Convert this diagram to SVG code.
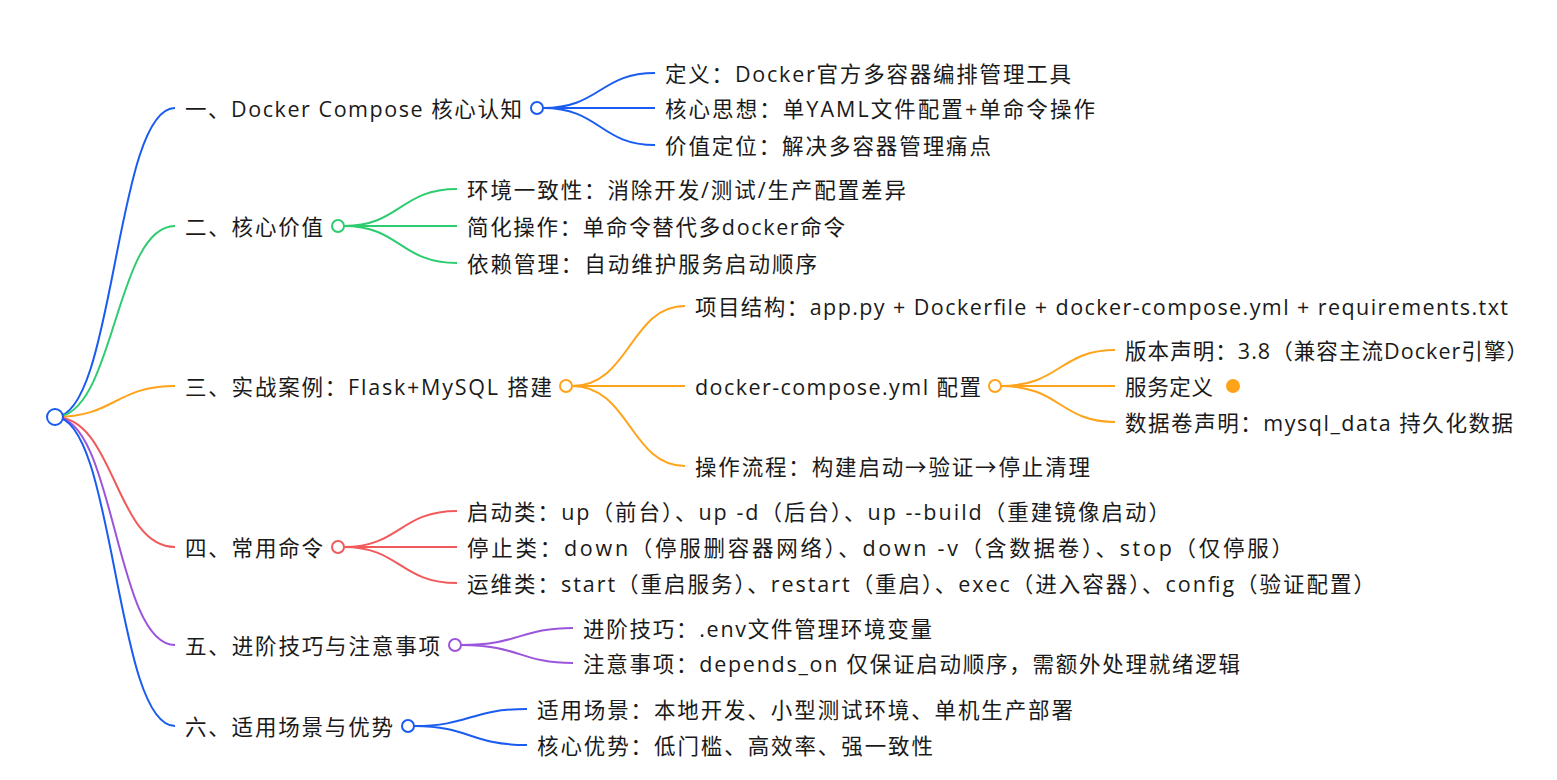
<svg xmlns="http://www.w3.org/2000/svg" width="1557" height="780" viewBox="0 0 1557 780">
<style>
text{font-family:"Open Sans","Noto Sans CJK SC","Microsoft YaHei",sans-serif;font-size:21.5px;fill:#1a1a1a;dominant-baseline:central}
path{fill:none;stroke-width:2}
.b{stroke:#1a5cf0}.g{stroke:#2ecc71}.o{stroke:#ffa31a}.r{stroke:#f05a5a}.p{stroke:#9b55dc}
circle{fill:#fff;stroke-width:2}
</style>
<rect width="1557" height="780" fill="#fff"/>
<g id="connectors">
<path class="b" d="M55,417 C115,417 115,108 175,108"/>
<path class="g" d="M55,417 C115,417 115,226 175,226"/>
<path class="o" d="M55,417 C115,417 115,386 175,386"/>
<path class="r" d="M55,417 C115,417 115,547 175,547"/>
<path class="p" d="M55,417 C115,417 115,645 175,645"/>
<path class="b" d="M55,417 C115,417 115,726 175,726"/>
<path class="b" d="M543,108 C600,108 600,73 655,73 M543,108 L655,108 M543,108 C600,108 600,145 655,145"/>
<path class="g" d="M344,226 C400,226 400,189 457,189 M344,226 L457,226 M344,226 C400,226 400,263 457,263"/>
<path class="o" d="M572,386 C630,386 630,306 685,306 M572,386 L685,386 M572,386 C630,386 630,466 685,466"/>
<path class="o" d="M1001,386 C1060,386 1060,350 1115,350 M1001,386 L1115,386 M1001,386 C1060,386 1060,422 1115,422"/>
<path class="r" d="M344,547 C400,547 400,511 457,511 M344,547 L457,547 M344,547 C400,547 400,583 457,583"/>
<path class="p" d="M461,645 C520,645 520,628 573,628 M461,645 C520,645 520,663 573,663"/>
<path class="b" d="M414,726 C470,726 470,709 527,709 M414,726 C470,726 470,745 527,745"/>
</g>
<g id="root"><circle cx="55" cy="417" r="8" stroke="#1a5cf0"/></g>
<g id="n1"><text x="185" y="108" textLength="337" lengthAdjust="spacing">一、Docker Compose 核心认知</text><circle cx="537" cy="108" r="6" stroke="#1a5cf0"/></g>
<g id="n1a"><text x="665" y="73" textLength="406" lengthAdjust="spacing">定义：Docker官方多容器编排管理工具</text></g>
<g id="n1b"><text x="665" y="108" textLength="430" lengthAdjust="spacing">核心思想：单YAML文件配置+单命令操作</text></g>
<g id="n1c"><text x="665" y="145" textLength="326" lengthAdjust="spacing">价值定位：解决多容器管理痛点</text></g>
<g id="n2"><text x="185" y="226" textLength="138" lengthAdjust="spacing">二、核心价值</text><circle cx="338" cy="226" r="6" stroke="#2ecc71"/></g>
<g id="n2a"><text x="467" y="189" textLength="439" lengthAdjust="spacing">环境一致性：消除开发/测试/生产配置差异</text></g>
<g id="n2b"><text x="467" y="226" textLength="378" lengthAdjust="spacing">简化操作：单命令替代多docker命令</text></g>
<g id="n2c"><text x="467" y="263" textLength="350" lengthAdjust="spacing">依赖管理：自动维护服务启动顺序</text></g>
<g id="n3"><text x="185" y="386" textLength="367" lengthAdjust="spacing">三、实战案例：Flask+MySQL 搭建</text><circle cx="566" cy="386" r="6" stroke="#ffa31a"/></g>
<g id="n3a"><text x="695" y="306" textLength="813" lengthAdjust="spacing">项目结构：app.py + Dockerfile + docker-compose.yml + requirements.txt</text></g>
<g id="n3b"><text x="695" y="386" textLength="286" lengthAdjust="spacing">docker-compose.yml 配置</text><circle cx="995" cy="386" r="6" stroke="#ffa31a"/></g>
<g id="n3b1"><text x="1125" y="350" textLength="403" lengthAdjust="spacing">版本声明：3.8（兼容主流Docker引擎）</text></g>
<g id="n3b2"><text x="1125" y="386" textLength="88" lengthAdjust="spacing">服务定义</text><circle cx="1233" cy="386" r="6" stroke="#ffa31a" style="fill:#ffa31a"/></g>
<g id="n3b3"><text x="1125" y="422" textLength="388" lengthAdjust="spacing">数据卷声明：mysql_data 持久化数据</text></g>
<g id="n3c"><text x="695" y="466" textLength="395" lengthAdjust="spacing">操作流程：构建启动→验证→停止清理</text></g>
<g id="n4"><text x="185" y="547" textLength="138" lengthAdjust="spacing">四、常用命令</text><circle cx="338" cy="547" r="6" stroke="#f05a5a"/></g>
<g id="n4a"><text x="467" y="511" textLength="703" lengthAdjust="spacing">启动类：up（前台）、up -d（后台）、up --build（重建镜像启动）</text></g>
<g id="n4b"><text x="467" y="547" textLength="826" lengthAdjust="spacing">停止类：down（停服删容器网络）、down -v（含数据卷）、stop（仅停服）</text></g>
<g id="n4c"><text x="467" y="583" textLength="908" lengthAdjust="spacing">运维类：start（重启服务）、restart（重启）、exec（进入容器）、config（验证配置）</text></g>
<g id="n5"><text x="185" y="645" textLength="255" lengthAdjust="spacing">五、进阶技巧与注意事项</text><circle cx="455" cy="645" r="6" stroke="#9b55dc"/></g>
<g id="n5a"><text x="583" y="628" textLength="349" lengthAdjust="spacing">进阶技巧：.env文件管理环境变量</text></g>
<g id="n5b"><text x="583" y="663" textLength="657" lengthAdjust="spacing">注意事项：depends_on 仅保证启动顺序，需额外处理就绪逻辑</text></g>
<g id="n6"><text x="185" y="726" textLength="208" lengthAdjust="spacing">六、适用场景与优势</text><circle cx="408" cy="726" r="6" stroke="#1a5cf0"/></g>
<g id="n6a"><text x="537" y="709" textLength="536" lengthAdjust="spacing">适用场景：本地开发、小型测试环境、单机生产部署</text></g>
<g id="n6b"><text x="537" y="745" textLength="396" lengthAdjust="spacing">核心优势：低门槛、高效率、强一致性</text></g>
</svg>
